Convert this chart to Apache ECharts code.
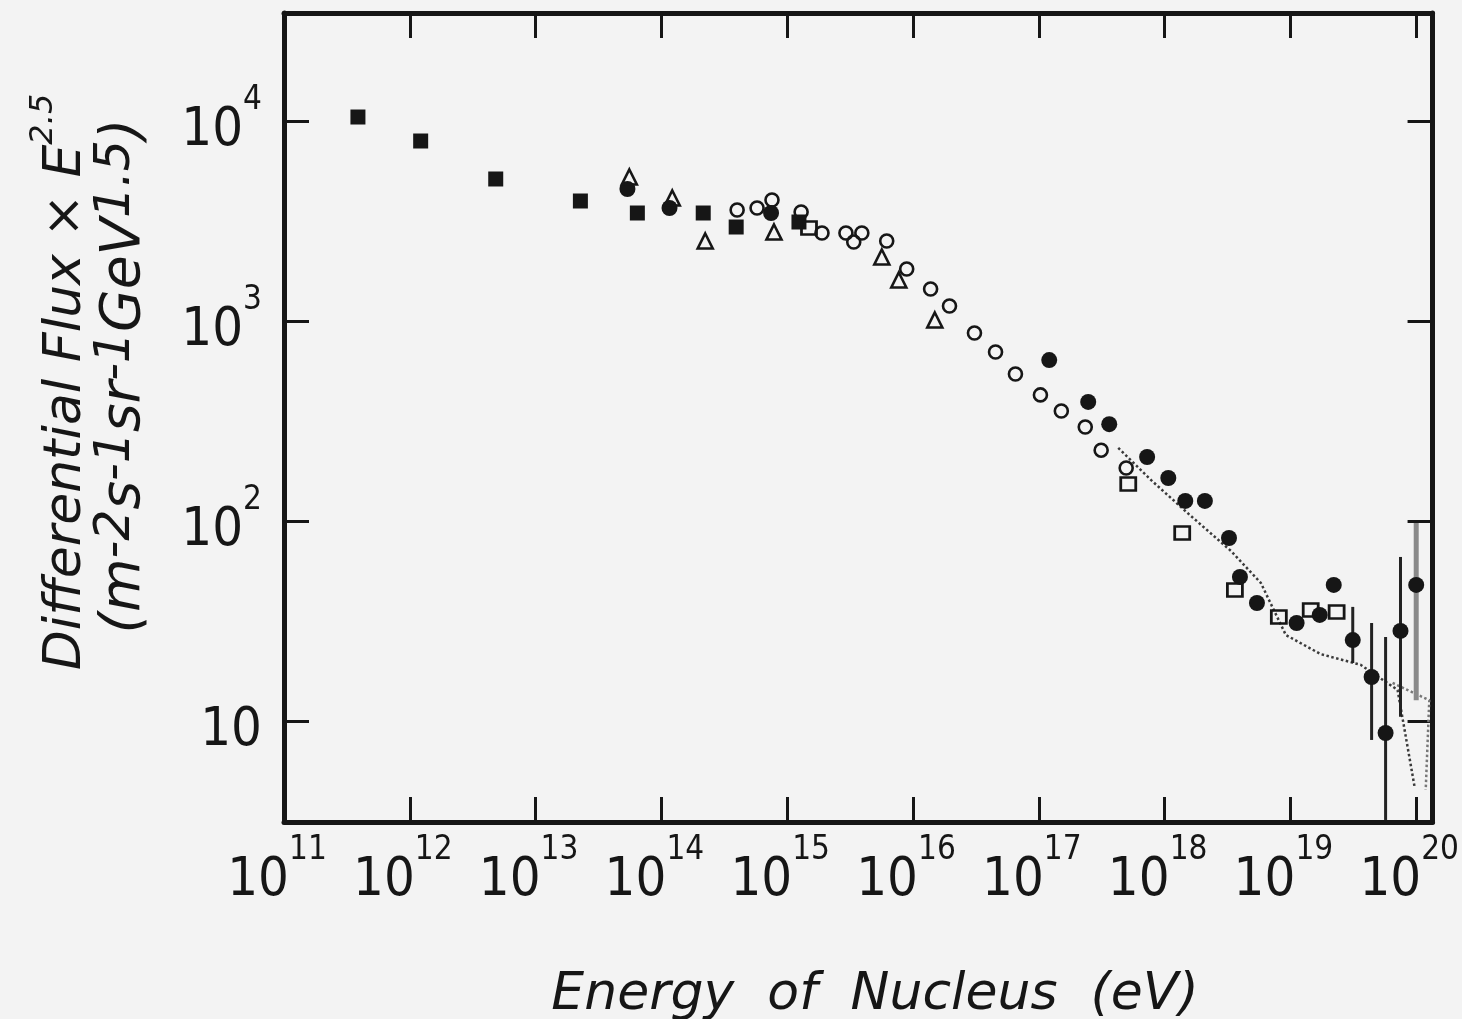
<!DOCTYPE html>
<html>
<head>
<meta charset="utf-8">
<script src="https://cdn.jsdelivr.net/npm/echarts@6/dist/echarts.min.js"></script>
<style>
  html, body { margin: 0; padding: 0; background: #f3f3f3; }
  #chart { width: 1462px; height: 1019px; }
</style>
</head>
<body>
<div id="chart"></div>
<script>
// ---- Data (energy in eV, flux*E^2.5 in m^-2 s^-1 sr^-1 GeV^1.5) ----
const filledSquares = [
  [3.87e11, 10470], [1.22e12, 7943], [4.82e12, 5129], [2.27e13, 3981],
  [6.44e13, 3467], [2.15e14, 3467], [3.93e14, 2951], [1.24e15, 3126]
];
const filledCircles = [
  [5.37e13, 4571], [1.16e14, 3673], [7.44e14, 3467],
  [1.21e17, 638], [2.47e17, 394], [3.63e17, 305], [7.26e17, 209],
  [1.07e18, 164], [1.46e18, 126], [2.09e18, 126], [3.25e18, 82.2],
  [3.97e18, 52.5], [5.42e18, 38.9], [1.12e19, 30.9], [1.71e19, 33.9],
  [2.21e19, 47.9], [3.13e19, 25.4], [4.42e19, 16.6], [5.71e19, 8.71],
  [7.50e19, 28.2], [1.00e20, 47.9]
];
const openCircles = [
  [4.0e14, 3589], [5.76e14, 3673], [7.57e14, 4027], [1.29e15, 3508],
  [1.89e15, 2754], [2.93e15, 2754], [3.92e15, 2754], [3.38e15, 2483],
  [6.18e15, 2512], [8.91e15, 1820], [1.38e16, 1445], [1.95e16, 1189],
  [3.08e16, 871], [4.53e16, 700], [6.52e16, 543], [1.03e17, 427],
  [1.51e17, 355], [2.34e17, 295], [3.13e17, 226], [4.95e17, 184]
];
const openTriangles = [
  [5.56e13, 5248], [1.22e14, 4121], [2.23e14, 2512], [7.85e14, 2786],
  [5.65e15, 2089], [7.71e15, 1603], [1.49e16, 1012]
];
const openSquares = [
  [1.49e15, 2917], [5.14e17, 153], [1.38e18, 87.1], [3.62e18, 45.2],
  [8.09e18, 33.1], [1.45e19, 35.9], [2.33e19, 35.1]
];
// error bars: [energy, upper, lower]
const errorBars = [
  [3.13e19, 37.2, 19.5], [4.42e19, 30.9, 8.04], [5.71e19, 26.3, 3.2],
  [7.50e19, 66.1, 10.5]
];
const errorBarsGray = [
  [1.00e20, 97.7, 12.7]
];
const dottedTrend = [
  [4.28e17, 232], [7.82e17, 160], [1.59e18, 107], [3.37e18, 70.8],
  [5.82e18, 49], [9.20e18, 26.9], [1.74e19, 21.6], [3.61e19, 19.1],
  [7.11e19, 14.3], [9.71e19, 4.68]
];
const dottedWedge = [
  [6.49e19, 15.5], [1.27e20, 12.7], [1.19e20, 4.52]
];
const xTickExponents = [11, 12, 13, 14, 15, 16, 17, 18, 19, 20];
const yTickExponents = [1, 2, 3, 4];

const INK = '#161616';
const NARROW = '"Liberation Sans Narrow", "DejaVu Sans Condensed", "Liberation Sans", sans-serif';
const X_MIN = 1e11, X_MAX = Math.pow(10, 20.13);
const Y_MIN = Math.pow(10, 0.495), Y_MAX = Math.pow(10, 4.54);

function powLabel(v, list) {
  const e = Math.log10(v);
  const r = Math.round(e);
  if (Math.abs(e - r) > 1e-6 || list.indexOf(r) < 0) return '';
  if (r === 1) return '{b|10}';
  return '{b|10}{s|' + r + '}';
}
const labelRich = {
  b: { fontSize: 54, fontFamily: NARROW, color: INK, lineHeight: 74, verticalAlign: 'bottom' },
  s: { fontSize: 33, fontFamily: NARROW, color: INK, lineHeight: 35, verticalAlign: 'top' }
};
const axisLine = { show: true, onZero: false, lineStyle: { color: INK, width: 5 } };
const axisTick = { show: true, inside: true, length: 25, lineStyle: { color: INK, width: 3 } };

const chart = echarts.init(document.getElementById('chart'), null, { renderer: 'canvas' });

const openStyle = { color: 'rgba(0,0,0,0)', borderColor: INK, borderWidth: 2.6, opacity: 1 };
const filledStyle = { color: INK, opacity: 1 };

function errRender(color, width) {
  return function (params, api) {
    const p1 = api.coord([api.value(0), api.value(1)]);
    const p2 = api.coord([api.value(0), api.value(2)]);
    return {
      type: 'line',
      shape: { x1: p1[0], y1: p1[1], x2: p2[0], y2: p2[1] },
      style: { stroke: color, lineWidth: width }
    };
  };
}

chart.setOption({
  backgroundColor: '#f3f3f3',
  animation: false,
  grid: { left: 284, right: 27, top: 13, bottom: 197 },
  xAxis: [
    {
      type: 'log', logBase: 10, min: X_MIN, max: X_MAX, splitNumber: 10,
      position: 'bottom',
      axisLine: axisLine, axisTick: axisTick, splitLine: { show: false },
      axisLabel: {
        margin: 12, showMaxLabel: false, showMinLabel: true,
        padding: [0, 14, 0, 0],
        formatter: v => powLabel(v, xTickExponents), rich: labelRich
      }
    },
    {
      type: 'log', logBase: 10, min: X_MIN, max: X_MAX, splitNumber: 10,
      position: 'top',
      axisLine: axisLine, axisTick: axisTick, splitLine: { show: false },
      axisLabel: { show: false }
    }
  ],
  yAxis: [
    {
      type: 'log', logBase: 10, min: Y_MIN, max: Y_MAX, splitNumber: 5,
      position: 'left',
      axisLine: axisLine, axisTick: axisTick, splitLine: { show: false },
      axisLabel: {
        margin: 22, showMaxLabel: false, showMinLabel: false,
        formatter: v => powLabel(v, yTickExponents), rich: labelRich
      }
    },
    {
      type: 'log', logBase: 10, min: Y_MIN, max: Y_MAX, splitNumber: 5,
      position: 'right',
      axisLine: axisLine, axisTick: axisTick, splitLine: { show: false },
      axisLabel: { show: false }
    }
  ],
  graphic: [
    {
      type: 'text', x: 60, y: 382, rotation: Math.PI / 2,
      style: {
        text: '{m|Differential Flux × E}{s|2.5}',
        align: 'center', verticalAlign: 'middle',
        rich: {
          m: { fontSize: 52, fontStyle: 'italic', fontFamily: 'DejaVu Sans', fill: INK, lineHeight: 64, verticalAlign: 'bottom' },
          s: { fontSize: 32, fontStyle: 'italic', fontFamily: 'DejaVu Sans', fill: INK, lineHeight: 34, verticalAlign: 'top' }
        }
      }
    },
    {
      type: 'text', x: 122, y: 376, rotation: Math.PI / 2,
      style: {
        text: '{m|(m}{s|-2}{m|s}{s|-1}{m|sr}{s|-1}{m|GeV}{s|1.5}{m|)}',
        align: 'center', verticalAlign: 'middle',
        rich: {
          m: { fontSize: 55, fontStyle: 'italic', fontFamily: 'DejaVu Sans', fill: INK, lineHeight: 60, verticalAlign: 'bottom' },
          s: { fontSize: 49, fontStyle: 'italic', fontFamily: 'DejaVu Sans', fill: INK, lineHeight: 52, verticalAlign: 'top' }
        }
      }
    },
    {
      type: 'text', x: 875, y: 995,
      style: {
        text: 'Energy  of  Nucleus  (eV)',
        fontSize: 52, fontStyle: 'italic', fontFamily: 'DejaVu Sans', fill: INK,
        align: 'center', verticalAlign: 'middle'
      }
    }
  ],
  series: [
    {
      type: 'line', name: 'trend', data: dottedTrend, showSymbol: false, symbol: 'none',
      lineStyle: { type: 'dotted', width: 2.5, color: '#3a3a3a' }, z: 1
    },
    {
      type: 'line', name: 'wedge', data: dottedWedge, showSymbol: false, symbol: 'none',
      lineStyle: { type: 'dotted', width: 2.5, color: '#777' }, z: 1
    },
    {
      type: 'custom', name: 'errors', data: errorBars, z: 2,
      renderItem: errRender('#222', 3)
    },
    {
      type: 'custom', name: 'errorsGray', data: errorBarsGray, z: 2,
      renderItem: errRender('#8a8a8a', 5)
    },
    {
      type: 'scatter', name: 'filledSquares', data: filledSquares,
      symbol: 'rect', symbolSize: 15, itemStyle: filledStyle, z: 3
    },
    {
      type: 'scatter', name: 'filledCircles', data: filledCircles,
      symbol: 'circle', symbolSize: 16, itemStyle: filledStyle, z: 3
    },
    {
      type: 'scatter', name: 'openCircles', data: openCircles,
      symbol: 'circle', symbolSize: 13, itemStyle: openStyle, z: 4
    },
    {
      type: 'scatter', name: 'openTriangles', data: openTriangles,
      symbol: 'triangle', symbolSize: 15, itemStyle: openStyle, z: 4
    },
    {
      type: 'scatter', name: 'openSquares', data: openSquares,
      symbol: 'rect', symbolSize: [15, 13], itemStyle: openStyle, z: 4
    }
  ]
});
</script>
</body>
</html>
